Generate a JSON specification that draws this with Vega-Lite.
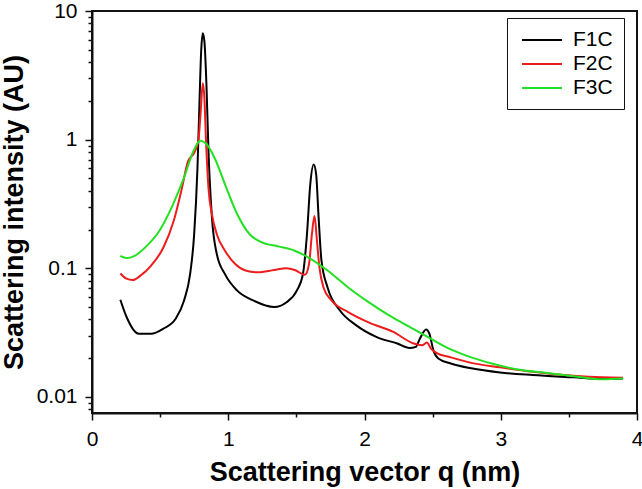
{
  "$schema": "https://vega.github.io/schema/vega-lite/v6.json",
  "width": 545,
  "height": 402,
  "autosize": "none",
  "padding": {"left": 92, "top": 11, "right": 5, "bottom": 76},
  "background": "white",
  "config": {
    "font": "Liberation Sans",
    "view": {"stroke": "#111111", "strokeWidth": 2}
  },
  "data": {"values": [
    {"s":"F1C","q":0.208,"I":0.057},{"s":"F1C","q":0.253,"I":0.042},{"s":"F1C","q":0.343,"I":0.031},{"s":"F1C","q":0.434,"I":0.031},{"s":"F1C","q":0.524,"I":0.034},{"s":"F1C","q":0.614,"I":0.0405},{"s":"F1C","q":0.675,"I":0.056},{"s":"F1C","q":0.72,"I":0.09},{"s":"F1C","q":0.75,"I":0.185},{"s":"F1C","q":0.774,"I":0.6},{"s":"F1C","q":0.789,"I":1.98},{"s":"F1C","q":0.801,"I":4.8},{"s":"F1C","q":0.813,"I":6.7},{"s":"F1C","q":0.825,"I":5.8},{"s":"F1C","q":0.84,"I":2.66},{"s":"F1C","q":0.855,"I":0.81},{"s":"F1C","q":0.88,"I":0.25},{"s":"F1C","q":0.916,"I":0.129},{"s":"F1C","q":0.976,"I":0.09},{"s":"F1C","q":1.066,"I":0.067},{"s":"F1C","q":1.187,"I":0.056},{"s":"F1C","q":1.337,"I":0.05},{"s":"F1C","q":1.428,"I":0.0545},{"s":"F1C","q":1.503,"I":0.067},{"s":"F1C","q":1.548,"I":0.09},{"s":"F1C","q":1.578,"I":0.185},{"s":"F1C","q":1.602,"I":0.45},{"s":"F1C","q":1.627,"I":0.64},{"s":"F1C","q":1.645,"I":0.54},{"s":"F1C","q":1.663,"I":0.25},{"s":"F1C","q":1.684,"I":0.115},{"s":"F1C","q":1.729,"I":0.071},{"s":"F1C","q":1.82,"I":0.047},{"s":"F1C","q":1.94,"I":0.036},{"s":"F1C","q":2.09,"I":0.0292},{"s":"F1C","q":2.241,"I":0.026},{"s":"F1C","q":2.331,"I":0.024},{"s":"F1C","q":2.376,"I":0.0245},{"s":"F1C","q":2.407,"I":0.0285},{"s":"F1C","q":2.452,"I":0.0334},{"s":"F1C","q":2.476,"I":0.031},{"s":"F1C","q":2.506,"I":0.023},{"s":"F1C","q":2.542,"I":0.0199},{"s":"F1C","q":2.633,"I":0.0182},{"s":"F1C","q":2.783,"I":0.0167},{"s":"F1C","q":2.994,"I":0.0155},{"s":"F1C","q":3.235,"I":0.0148},{"s":"F1C","q":3.536,"I":0.0142},{"s":"F1C","q":3.747,"I":0.0138},{"s":"F1C","q":3.898,"I":0.0139},
    {"s":"F2C","q":0.208,"I":0.091},{"s":"F2C","q":0.253,"I":0.083},{"s":"F2C","q":0.298,"I":0.081},{"s":"F2C","q":0.358,"I":0.088},{"s":"F2C","q":0.434,"I":0.105},{"s":"F2C","q":0.524,"I":0.145},{"s":"F2C","q":0.6,"I":0.234},{"s":"F2C","q":0.66,"I":0.42},{"s":"F2C","q":0.705,"I":0.68},{"s":"F2C","q":0.75,"I":0.79},{"s":"F2C","q":0.78,"I":0.97},{"s":"F2C","q":0.798,"I":1.66},{"s":"F2C","q":0.813,"I":2.74},{"s":"F2C","q":0.825,"I":2.1},{"s":"F2C","q":0.837,"I":0.97},{"s":"F2C","q":0.855,"I":0.42},{"s":"F2C","q":0.88,"I":0.263},{"s":"F2C","q":0.916,"I":0.184},{"s":"F2C","q":0.976,"I":0.137},{"s":"F2C","q":1.051,"I":0.108},{"s":"F2C","q":1.127,"I":0.096},{"s":"F2C","q":1.217,"I":0.093},{"s":"F2C","q":1.337,"I":0.097},{"s":"F2C","q":1.428,"I":0.1},{"s":"F2C","q":1.488,"I":0.097},{"s":"F2C","q":1.563,"I":0.089},{"s":"F2C","q":1.593,"I":0.108},{"s":"F2C","q":1.614,"I":0.184},{"s":"F2C","q":1.633,"I":0.255},{"s":"F2C","q":1.651,"I":0.164},{"s":"F2C","q":1.669,"I":0.102},{"s":"F2C","q":1.699,"I":0.071},{"s":"F2C","q":1.759,"I":0.056},{"s":"F2C","q":1.88,"I":0.0457},{"s":"F2C","q":2.03,"I":0.038},{"s":"F2C","q":2.211,"I":0.032},{"s":"F2C","q":2.361,"I":0.026},{"s":"F2C","q":2.422,"I":0.0252},{"s":"F2C","q":2.458,"I":0.0265},{"s":"F2C","q":2.488,"I":0.0237},{"s":"F2C","q":2.527,"I":0.022},{"s":"F2C","q":2.633,"I":0.0203},{"s":"F2C","q":2.783,"I":0.0184},{"s":"F2C","q":2.994,"I":0.017},{"s":"F2C","q":3.235,"I":0.0157},{"s":"F2C","q":3.536,"I":0.0146},{"s":"F2C","q":3.747,"I":0.0142},{"s":"F2C","q":3.898,"I":0.0141},
    {"s":"F3C","q":0.208,"I":0.125},{"s":"F3C","q":0.253,"I":0.12},{"s":"F3C","q":0.313,"I":0.125},{"s":"F3C","q":0.404,"I":0.15},{"s":"F3C","q":0.494,"I":0.195},{"s":"F3C","q":0.584,"I":0.296},{"s":"F3C","q":0.675,"I":0.506},{"s":"F3C","q":0.75,"I":0.84},{"s":"F3C","q":0.795,"I":0.98},{"s":"F3C","q":0.84,"I":0.925},{"s":"F3C","q":0.9,"I":0.72},{"s":"F3C","q":0.976,"I":0.45},{"s":"F3C","q":1.066,"I":0.263},{"s":"F3C","q":1.157,"I":0.184},{"s":"F3C","q":1.247,"I":0.159},{"s":"F3C","q":1.367,"I":0.148},{"s":"F3C","q":1.488,"I":0.137},{"s":"F3C","q":1.608,"I":0.118},{"s":"F3C","q":1.729,"I":0.096},{"s":"F3C","q":1.88,"I":0.071},{"s":"F3C","q":2.03,"I":0.0546},{"s":"F3C","q":2.181,"I":0.043},{"s":"F3C","q":2.331,"I":0.035},{"s":"F3C","q":2.482,"I":0.0285},{"s":"F3C","q":2.633,"I":0.0234},{"s":"F3C","q":2.783,"I":0.0203},{"s":"F3C","q":2.934,"I":0.0182},{"s":"F3C","q":3.114,"I":0.0164},{"s":"F3C","q":3.325,"I":0.0154},{"s":"F3C","q":3.536,"I":0.0145},{"s":"F3C","q":3.747,"I":0.0137},{"s":"F3C","q":3.898,"I":0.0139}
  ]},
  "resolve": {"axis": {"x": "independent", "y": "independent"}},
  "layer": [
    {
      "mark": {"type": "line", "opacity": 0},
      "encoding": {
        "x": {
          "field": "q", "type": "quantitative",
          "scale": {"domain": [0, 4], "nice": false, "zero": false},
          "axis": {
            "orient": "bottom", "title": null, "labels": false,
            "values": [0.5, 1.5, 2.5, 3.5],
            "tickSize": 4, "tickColor": "#111111", "tickWidth": 1.5,
            "domain": false, "grid": false
          }
        },
        "y": {
          "field": "I", "type": "quantitative",
          "scale": {"type": "log", "domain": [0.0075, 10], "nice": false},
          "axis": {
            "orient": "left", "title": null, "labels": false,
            "values": [0.008, 0.009, 0.02, 0.03, 0.04, 0.05, 0.06, 0.07, 0.08, 0.09, 0.2, 0.3, 0.4, 0.5, 0.6, 0.7, 0.8, 0.9, 2, 3, 4, 5, 6, 7, 8, 9],
            "tickSize": 4, "tickColor": "#111111", "tickWidth": 1.5,
            "domain": false, "grid": false
          }
        }
      }
    },
    {
      "mark": {"type": "line", "strokeWidth": 2, "interpolate": "monotone", "clip": true},
      "encoding": {
        "x": {
          "field": "q", "type": "quantitative",
          "axis": {
            "orient": "bottom",
            "title": "Scattering vector q (nm)",
            "titleFontSize": 27, "titleFontWeight": "bold", "titleColor": "black", "titlePadding": 10,
            "values": [0, 1, 2, 3, 4],
            "labelFontSize": 21, "labelColor": "black", "labelPadding": 8, "labelFlush": false,
            "tickSize": 7, "tickColor": "#111111", "tickWidth": 1.5,
            "domainColor": "#111111", "domainWidth": 2, "grid": false
          }
        },
        "y": {
          "field": "I", "type": "quantitative",
          "axis": {
            "orient": "left",
            "title": "Scattering intensity (AU)",
            "titleFontSize": 27, "titleFontWeight": "bold", "titleColor": "black", "titlePadding": 8,
            "values": [0.01, 0.1, 1, 10],
            "format": "~g",
            "labelFontSize": 21, "labelColor": "black", "labelPadding": 8, "labelFlush": false,
            "tickSize": 7, "tickColor": "#111111", "tickWidth": 1.5,
            "domainColor": "#111111", "domainWidth": 2, "grid": false
          }
        },
        "color": {
          "field": "s", "type": "nominal",
          "scale": {"domain": ["F1C", "F2C", "F3C"], "range": ["#000000", "#ee1c1c", "#22e022"]},
          "legend": {
            "title": null, "orient": "none", "legendX": 415, "legendY": 7,
            "symbolType": "M-2,0H2", "symbolSize": 400, "symbolStrokeWidth": 2, "symbolOffset": 13,
            "labelFontSize": 21, "labelColor": "black", "labelOffset": 20,
            "rowPadding": 3, "padding": 11,
            "strokeColor": "#111111", "fillColor": "white"
          }
        }
      }
    }
  ]
}
